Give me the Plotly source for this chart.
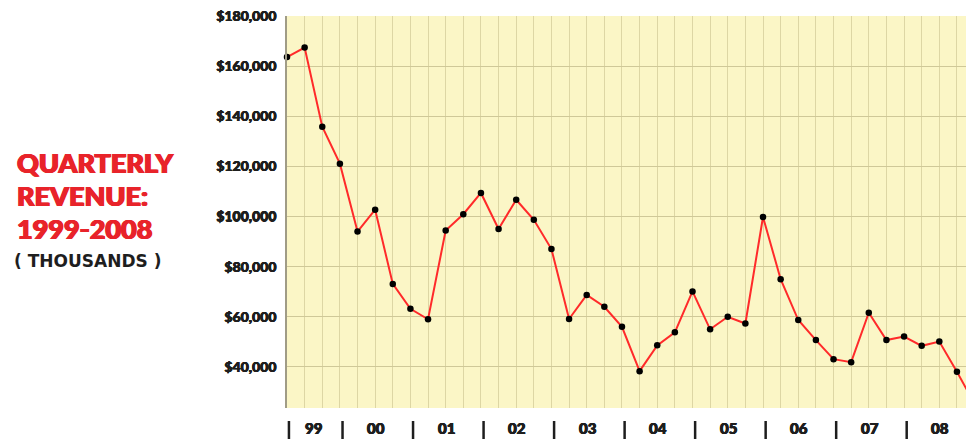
import plotly.graph_objects as go

# Quarterly revenue 1999 Q1 .. 2008 Q4 (dollars)
quarters = list(range(40))
revenue = [
    163600, 167400, 135800, 121100,   # 1999
    94000, 102700, 73100, 63200,      # 2000
    59000, 94400, 100900, 109400,     # 2001
    95000, 106700, 98700, 87000,      # 2002
    59100, 68700, 64000, 56000,       # 2003
    38300, 48600, 53800, 70100,       # 2004
    55000, 60000, 57300, 99800,       # 2005
    75000, 58700, 50700, 43100,       # 2006
    41900, 61600, 50700, 52100,       # 2007
    48400, 50100, 38100, 25200,       # 2008
]
year_labels = ["99", "00", "01", "02", "03", "04", "05", "06", "07", "08"]
title_lines = ["QUARTERLY", "REVENUE:", "1999-2008"]
subtitle = "( THOUSANDS )"

W, H = 966, 439
ML, MR, MT, MB = 287, 0, 16, 31
PW = W - ML - MR
PH = H - MT - MB
STEP = 17.63  # px per quarter

def px_x(px):
    return (px - ML) / PW

def px_y(py):
    return (H - MB - py) / PH

def thick(c, d=0.6):
    return f"{d}px 0 0 {c}, -{d}px 0 0 {c}, 0 {d/2}px 0 {c}"

RED = "#e8232a"
INK = "#1e1e1e"

fig = go.Figure()
fig.add_trace(go.Scatter(
    x=quarters, y=revenue, mode="lines+markers",
    line=dict(color="#ff2a2a", width=2),
    marker=dict(color="black", size=6.5, symbol="circle"),
    cliponaxis=False, hoverinfo="skip", showlegend=False,
))

# year separators and labels
seps = [0.11] + [4 * k - 0.85 for k in range(1, len(year_labels))] + [4 * len(year_labels) - 0.85]
shapes = []
annotations = []
for k, lab in enumerate(year_labels):
    s = seps[k]
    shapes.append(dict(type="line", xref="x", yref="paper", x0=s, x1=s,
                       y0=px_y(421), y1=px_y(445), line=dict(color=INK, width=2.5)))
    mid = (seps[k] + seps[k + 1]) / 2 - 0.1
    annotations.append(dict(x=mid, y=px_y(428), xref="x", yref="paper", text=lab,
                            showarrow=False, xanchor="center", yanchor="middle",
                            font=dict(family="Lato", size=15, color=INK, weight=900,
                                      shadow=thick(INK, 0.5))))

# title block
for i, t in enumerate(title_lines):
    annotations.append(dict(x=px_x(15), y=px_y(162 + 33 * i), xref="paper", yref="paper",
                            text=t, showarrow=False, xanchor="left", yanchor="middle",
                            font=dict(family="Lato", size=27, color=RED, weight=900,
                                      shadow=thick(RED, 0.8))))
annotations.append(dict(x=px_x(12), y=px_y(261), xref="paper", yref="paper",
                        text=subtitle, showarrow=False, xanchor="left", yanchor="middle",
                        font=dict(family="DejaVu Sans", size=17, color=INK, weight="bold")))

fig.update_layout(
    width=W, height=H,
    margin=dict(l=ML, r=MR, t=MT, b=MB, pad=0),
    paper_bgcolor="white", plot_bgcolor="#fbf6c6",
    shapes=shapes, annotations=annotations,
    xaxis=dict(range=[0, PW / STEP], dtick=1, tick0=0, showgrid=True,
               gridcolor="#ddd6a4", gridwidth=1, showticklabels=False,
               zeroline=False, showline=False, ticks=""),
    yaxis=dict(range=[23600, 180000], dtick=20000, tick0=0, showgrid=True,
               gridcolor="#cfc898", gridwidth=1, tickprefix="$", tickformat=",d",
               tickfont=dict(family="Lato", size=14, color=INK, weight=900,
                             shadow=thick(INK, 0.4)),
               ticks="", ticklabelstandoff=6, zeroline=False,
               showline=True, linecolor="#a09c86", linewidth=1.5),
)

fig.write_html("out.html")
